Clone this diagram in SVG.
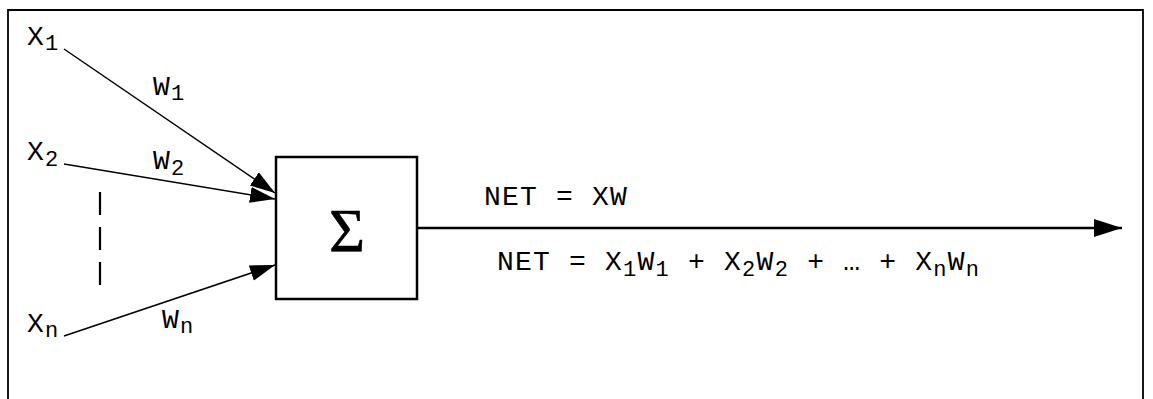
<svg xmlns="http://www.w3.org/2000/svg" width="1153" height="399" viewBox="0 0 1153 399">
<style>
.t{font-family:"Liberation Mono",monospace;font-size:28px;letter-spacing:1.2px;fill:#000}
.s{font-size:22px;letter-spacing:1.3px}
.ln{stroke:#000;stroke-width:1.5;fill:none}
.sig{font-family:"Liberation Serif",serif;font-size:62px;fill:#000;stroke:#000;stroke-width:0.6}
</style>
<defs>
<marker id="ah" markerUnits="userSpaceOnUse" markerWidth="26" markerHeight="18" refX="25" refY="8" orient="auto"><path d="M0,0 L25,8 L0,16 Z" fill="#000"/></marker>
<marker id="ah2" markerUnits="userSpaceOnUse" markerWidth="29" markerHeight="20" refX="28" refY="9" orient="auto"><path d="M0,0 L28,9 L0,18 Z" fill="#000"/></marker>
</defs>
<path d="M8,399 V10 H1143 V399" fill="none" stroke="#000" stroke-width="1.8"/>
<g id="x1"><text class="t" x="27" y="45">X<tspan class="s" dy="5">1</tspan></text></g>
<g id="x2"><text class="t" x="27" y="160">X<tspan class="s" dy="6">2</tspan></text></g>
<g id="xn"><text class="t" x="27" y="332">X<tspan class="s" dy="5">n</tspan></text></g>
<g id="dots"><line x1="100" y1="192" x2="100" y2="287" stroke="#000" stroke-width="2.2" stroke-dasharray="23 12"/></g>
<g id="sum"><rect x="276" y="157" width="141" height="142" fill="#fff" stroke="#000" stroke-width="2.5"/><text class="sig" x="347" y="251" text-anchor="middle">Σ</text></g>
<g id="connectors">
<line class="ln" x1="64" y1="49" x2="275" y2="193" marker-end="url(#ah)"/>
<line class="ln" x1="64" y1="164" x2="275" y2="199" marker-end="url(#ah)"/>
<line class="ln" x1="64" y1="336" x2="275" y2="265" marker-end="url(#ah)"/>
<line x1="417" y1="228" x2="1122" y2="228" stroke="#000" stroke-width="2.5" marker-end="url(#ah2)"/>
</g>
<g id="labels">
<text class="t" x="153" y="95">W<tspan class="s" dy="5">1</tspan></text>
<text class="t" x="153" y="169">W<tspan class="s" dy="6">2</tspan></text>
<text class="t" x="162" y="328">W<tspan class="s" dy="5">n</tspan></text>
<text class="t" x="484" y="205">NET = XW</text>
<text class="t" x="497" y="270">NET = X<tspan class="s" dy="6">1</tspan><tspan dy="-6">W</tspan><tspan class="s" dy="6">1</tspan><tspan dy="-6"> + X</tspan><tspan class="s" dy="6">2</tspan><tspan dy="-6">W</tspan><tspan class="s" dy="6">2</tspan><tspan dy="-6"> + … + X</tspan><tspan class="s" dy="6">n</tspan><tspan dy="-6">W</tspan><tspan class="s" dy="6">n</tspan></text>
</g>
</svg>
